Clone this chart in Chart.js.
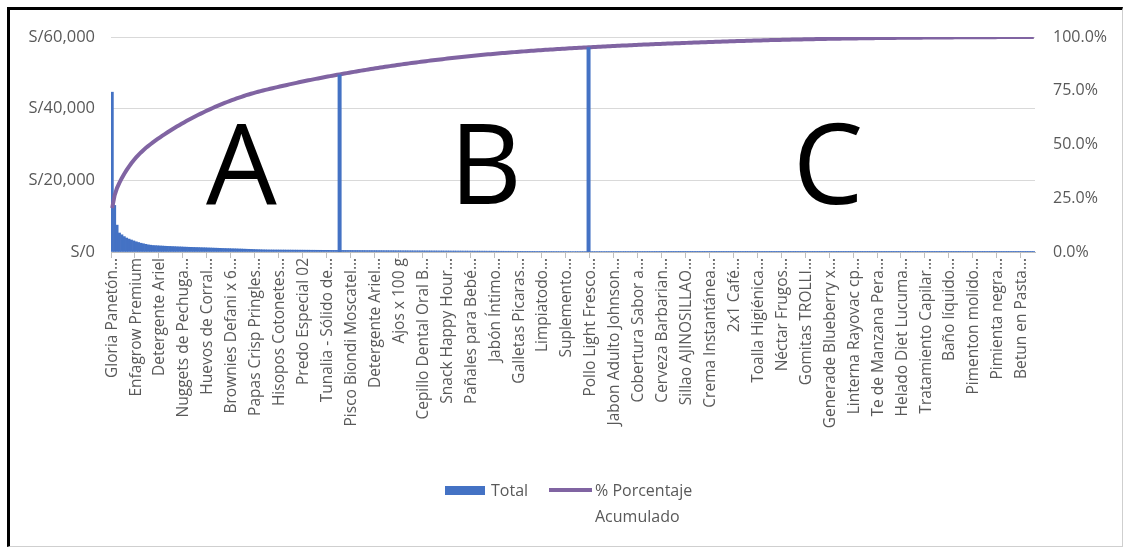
<!DOCTYPE html>
<html>
<head>
<meta charset="utf-8">
<title>Pareto ABC</title>
<script src="https://cdn.jsdelivr.net/npm/chart.js@4.4.1/dist/chart.umd.min.js"></script>
<style>
  html, body { margin: 0; padding: 0; background: #fff; }
  #wrap { position: absolute; left: 0; top: 0; width: 1124px; height: 547px; }
  #frame {
    position: absolute; left: 7px; top: 7px; width: 1112px; height: 536px;
    border-top: 3px solid #000; border-left: 3px solid #000;
    border-right: 1px solid #cfcfcf; border-bottom: 1px solid #cfcfcf;
    pointer-events: none;
  }
  #legend { position: absolute; left: 0; top: 0; font-family: "Open Sans", sans-serif; font-size: 16px; color: #595959; }
  #legend .item { position: absolute; }
</style>
</head>
<body>
<div id="wrap"><canvas id="paretoChart"></canvas></div>
<div id="frame"></div>
<div id="legend"></div>
<script>
// Product names shown on the axis (one every labelStep products)
const labelNames = [
    'Gloria Panetón…', 'Enfagrow Premium', 'Detergente Ariel', 'Nuggets de Pechuga…',
    'Huevos de Corral…', 'Brownies Defani x 6…', 'Papas Crisp Pringles…', 'Hisopos Cotonetes…',
    'Predo Especial 02', 'Tunalia - Sólido de…', 'Pisco Biondi Moscatel…', 'Detergente Ariel…',
    'Ajos x 100 g', 'Cepillo Dental Oral B…', 'Snack Happy Hour…', 'Pañales para Bebé…',
    'Jabón Íntimo…', 'Galletas Picaras…', 'Limpiatodo…', 'Suplemento…',
    'Pollo Light Fresco…', 'Jabon Adulto Johnson…', 'Cobertura Sabor a…', 'Cerveza Barbarian…',
    'Sillao AJINOSILLAO…', 'Crema Instantánea…', '2x1 Café…', 'Toalla Higiénica…',
    'Néctar Frugos…', 'Gomitas TROLLI…', 'Generade Blueberry x…', 'Linterna Rayovac cp…',
    'Te de Manzana Pera…', 'Helado Diet Lucuma…', 'Tratamiento Capilar…', 'Baño líquido…',
    'Pimenton molido…', 'Pimienta negra…', 'Betun en Pasta…'
];
const labelStep = 10;

// Total sales per product (S/), sorted high to low
const totals = [
    44600, 13000, 7500, 5300, 4800, 4300, 3900, 3600, 3350, 3100,
    2850, 2650, 2450, 2300, 2150, 2000, 1900, 1820, 1780, 1740,
    1700, 1660, 1620, 1590, 1560, 1530, 1500, 1470, 1440, 1410,
    1380, 1350, 1320, 1300, 1280, 1260, 1240, 1220, 1200, 1175,
    1150, 1125, 1100, 1075, 1050, 1025, 1000, 980, 960, 940,
    920, 900, 880, 855, 830, 805, 780, 755, 730, 705,
    680, 660, 640, 620, 600, 585, 580, 575, 570, 565,
    560, 555, 550, 545, 540, 535, 530, 525, 520, 515,
    510, 505, 500, 495, 490, 485, 480, 475, 470, 465,
    460, 455, 450, 447, 444, 441, 438, 434, 430, 427,
    423, 419, 416, 412, 408, 405, 401, 397, 394, 390,
    386, 383, 379, 375, 372, 368, 364, 361, 357, 353,
    350, 345, 341, 338, 334, 331, 327, 324, 320, 317,
    314, 310, 307, 304, 300, 297, 294, 290, 287, 284,
    281, 278, 274, 271, 268, 265, 262, 259, 256, 253,
    250, 247, 244, 241, 238, 235, 232, 229, 226, 223,
    215, 212, 209, 207, 204, 202, 199, 197, 194, 192,
    189, 187, 184, 182, 180, 177, 175, 173, 170, 168,
    166, 163, 161, 159, 157, 155, 152, 150, 148, 146,
    144, 142, 140, 138, 137, 135, 134, 132, 131, 130,
    130, 129, 128, 127, 126, 125, 124, 123, 122, 121,
    120, 119, 118, 117, 116, 115, 114, 113, 112, 111,
    110, 109, 108, 107, 106, 105, 104, 103, 102, 101,
    100, 99, 98, 97, 96, 96, 95, 94, 93, 92,
    92, 91, 91, 90, 90, 89, 89, 88, 88, 87,
    87, 86, 86, 85, 84, 84, 83, 82, 82, 81,
    80, 79, 78, 77, 76, 75, 74, 73, 72, 71,
    70, 69, 68, 67, 66, 65, 64, 63, 62, 61,
    60, 59, 58, 57, 56, 56, 55, 54, 53, 52,
    51, 50, 49, 49, 48, 47, 46, 46, 45, 44,
    44, 43, 42, 42, 41, 40, 40, 39, 38, 38,
    37, 36, 36, 35, 35, 34, 33, 33, 32, 32,
    31, 31, 30, 30, 29, 29, 28, 28, 27, 27,
    26, 26, 25, 25, 24, 24, 23, 23, 22, 22,
    21, 21, 20, 20, 20, 19, 19, 18, 18, 18,
    17, 17, 17, 16, 16, 16, 15, 15, 15, 14,
    14, 14, 13, 13, 13, 12, 12, 12, 11, 11,
    11, 10, 10, 10, 10, 9, 9, 9, 9, 8,
    8, 8, 7, 7, 7, 6
];

// Axis ticks
const salesTicks = [0, 20000, 40000, 60000];
const percentTicks = [0, 0.25, 0.5, 0.75, 1];

// ABC zones: product index where each divider line sits, and where each letter goes
const zoneBreaks = [95, 199];
const zoneLetters = ['A', 'B', 'C'];
const zoneLetterAt = [54, 156, 299];

// Category labels: name every labelStep products, blank in between
const categories = totals.map((_, i) => i % labelStep === 0 ? labelNames[i / labelStep] : '');

// Cumulative share
const grandTotal = totals.reduce((a, b) => a + b, 0);
let running = 0;
const cumulative = totals.map(v => { running += v; return running / grandTotal; });

const BAR_BLUE = '#4472C4';
const LINE_PURPLE = '#8064A2';
const AXIS_GREY = '#595959';

Chart.defaults.font.family = '"Open Sans", sans-serif';
Chart.defaults.color = AXIS_GREY;

// Divider lines and big A / B / C letters
const abcZones = {
    id: 'abcZones',
    afterDatasetsDraw(chart) {
        const { ctx, chartArea, scales } = chart;
        ctx.save();
        ctx.strokeStyle = BAR_BLUE;
        ctx.lineWidth = 4;
        zoneBreaks.forEach(i => {
            const px = scales.x.getPixelForValue(i);
            ctx.beginPath();
            ctx.moveTo(px, scales.y.getPixelForValue(0));
            ctx.lineTo(px, scales.y1.getPixelForValue(cumulative[i]));
            ctx.stroke();
        });
        ctx.fillStyle = '#000';
        ctx.font = '112px "Open Sans", sans-serif';
        ctx.textAlign = 'center';
        ctx.textBaseline = 'alphabetic';
        const baseY = chartArea.top + chartArea.height * 0.778;
        zoneLetters.forEach((t, k) => {
            ctx.fillText(t, scales.x.getPixelForValue(zoneLetterAt[k]), baseY);
        });
        ctx.restore();
    }
};

const ctx = document.getElementById('paretoChart').getContext('2d');
const chart = new Chart(ctx, {
    type: 'bar',
    data: {
        labels: categories,
        datasets: [
            {
                type: 'line',
                label: '% Porcentaje Acumulado',
                data: cumulative,
                yAxisID: 'y1',
                borderColor: LINE_PURPLE,
                backgroundColor: LINE_PURPLE,
                borderWidth: 4,
                pointRadius: 0,
                tension: 0,
                order: 0
            },
            {
                type: 'bar',
                label: 'Total',
                data: totals,
                yAxisID: 'y',
                backgroundColor: BAR_BLUE,
                borderWidth: 0,
                barPercentage: 1,
                categoryPercentage: 1,
                order: 1
            }
        ]
    },
    options: {
        responsive: true,
        maintainAspectRatio: false,
        animation: false,
        layout: { padding: { top: 37, left: 0, right: 0, bottom: 0 } },
        plugins: {
            legend: { display: false },
            tooltip: { enabled: false }
        },
        scales: {
            x: {
                grid: {
                    drawOnChartArea: false,
                    drawTicks: true,
                    tickLength: 6,
                    color: c => (c.index % labelStep === 0 ? '#BFBFBF' : 'rgba(0,0,0,0)')
                },
                border: { display: true, color: '#BFBFBF' },
                ticks: {
                    autoSkip: false,
                    minRotation: 90,
                    maxRotation: 90,
                    padding: 0,
                    color: AXIS_GREY,
                    font: { size: 15.5 }
                },
                afterFit: s => { s.height = 295; }
            },
            y: {
                position: 'left',
                min: 0,
                max: salesTicks[salesTicks.length - 1],
                afterBuildTicks: s => { s.ticks = salesTicks.map(v => ({ value: v })); },
                grid: { color: '#D9D9D9', drawTicks: false },
                border: { display: false },
                ticks: {
                    padding: 16,
                    color: AXIS_GREY,
                    font: { size: 16.5 },
                    callback: v => 'S/' + v.toLocaleString('en-US')
                },
                afterFit: s => { s.width = 111; }
            },
            y1: {
                position: 'right',
                min: 0,
                max: 1,
                afterBuildTicks: s => { s.ticks = percentTicks.map(v => ({ value: v })); },
                grid: { drawOnChartArea: false, drawTicks: false },
                border: { display: false },
                ticks: {
                    padding: 18,
                    color: AXIS_GREY,
                    font: { size: 16 },
                    callback: v => (v * 100).toFixed(1) + '%'
                },
                afterFit: s => { s.width = 89; }
            }
        }
    },
    plugins: [abcZones]
});

// HTML legend (lets the long label wrap like the original)
const legend = document.getElementById('legend');
const barSet = chart.data.datasets[1];
const lineSet = chart.data.datasets[0];
legend.innerHTML =
    '<div class="item" style="left:445px;top:486px;width:40px;height:9px;background:' + barSet.backgroundColor + '"></div>' +
    '<div class="item" style="left:491px;top:477px;line-height:26px">' + barSet.label + '</div>' +
    '<div class="item" style="left:549px;top:488px;width:43px;height:4px;background:' + lineSet.borderColor + '"></div>' +
    '<div class="item" style="left:595px;top:477px;width:112px;line-height:26px">' + lineSet.label + '</div>';
</script>
</body>
</html>
